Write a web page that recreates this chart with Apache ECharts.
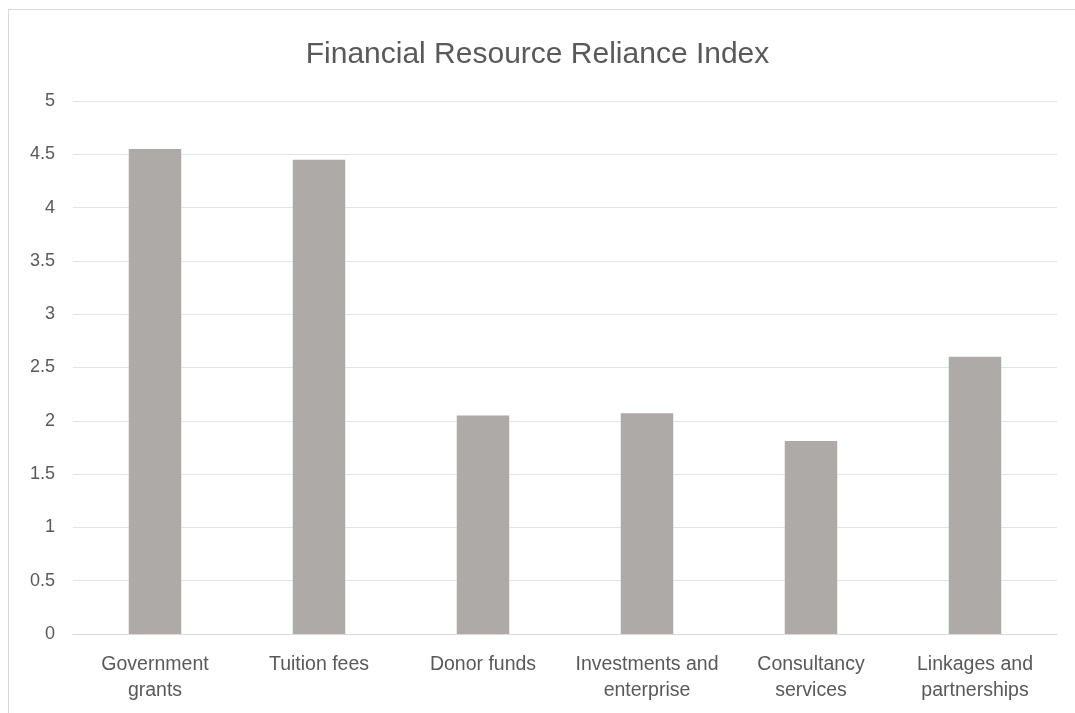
<!DOCTYPE html>
<html>
<head>
<meta charset="utf-8">
<script src="https://cdn.jsdelivr.net/npm/echarts@6/dist/echarts.min.js"></script>
<style>
  html, body { margin: 0; padding: 0; background: #ffffff; }
  #frame { position: absolute; left: 8px; top: 9px; width: 1080px; height: 720px; border: 1px solid #d9d9d9; box-sizing: border-box; }
  #chart { position: absolute; left: 0; top: 0; width: 1075px; height: 713px; }
</style>
</head>
<body>
<div id="frame"></div>
<div id="chart"></div>
<script>
// Funding sources and their mean reliance scores
const categories = [
  'Government\ngrants',
  'Tuition fees',
  'Donor funds',
  'Investments and\nenterprise',
  'Consultancy\nservices',
  'Linkages and\npartnerships'
];
const relianceScores = [4.55, 4.45, 2.05, 2.07, 1.81, 2.6];
const yTicks = { min: 0, max: 5, interval: 0.5 };

const FONT = '"Liberation Sans", Arial, sans-serif';
const TEXT = '#595959';

const chart = echarts.init(document.getElementById('chart'), null, { renderer: 'canvas' });
chart.setOption({
  backgroundColor: 'transparent',
  animation: false,
  title: {
    text: 'Financial Resource Reliance Index',
    left: 'center',
    top: 35,
    textStyle: { fontFamily: FONT, fontSize: 30, fontWeight: 'normal', color: TEXT }
  },
  grid: { left: 73, right: 18, top: 101, bottom: 79, containLabel: false },
  xAxis: {
    type: 'category',
    data: categories,
    axisLine: { lineStyle: { color: '#d9d9d9', width: 1 } },
    axisTick: { show: false },
    axisLabel: {
      fontFamily: FONT, fontSize: 19.5, color: TEXT,
      margin: 18, lineHeight: 26, interval: 0
    }
  },
  yAxis: {
    type: 'value',
    min: yTicks.min, max: yTicks.max, interval: yTicks.interval,
    axisLine: { show: false },
    axisTick: { show: false },
    splitLine: { lineStyle: { color: '#e4e4e4', width: 1 } },
    axisLabel: {
      fontFamily: FONT, fontSize: 18, color: TEXT, margin: 18,
      formatter: v => String(v)
    }
  },
  series: [{
    type: 'bar',
    data: relianceScores,
    barWidth: '32%',
    itemStyle: { color: '#adaaa8' }
  }]
});
</script>
</body>
</html>
